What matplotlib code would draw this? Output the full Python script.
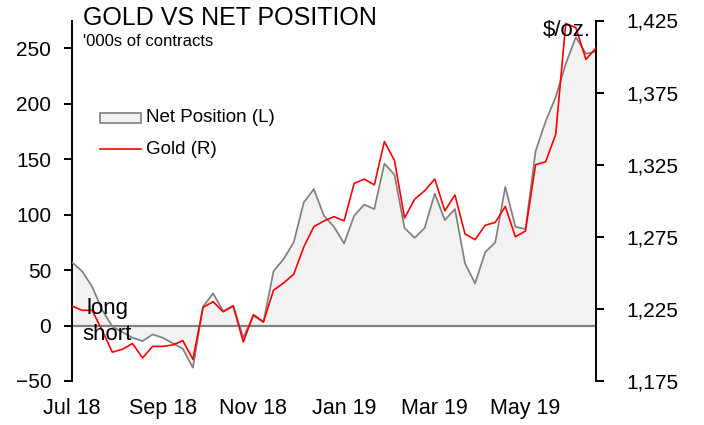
import matplotlib
matplotlib.use('Agg')
import matplotlib.pyplot as plt
from matplotlib.ticker import FuncFormatter, FixedLocator
from matplotlib.patches import Rectangle
from matplotlib.lines import Line2D

plt.rcParams['font.family'] = ['Liberation Sans', 'DejaVu Sans']

# Weekly observations (index 0 = first week of Jul 2018)
weeks = list(range(53))
net_position = [57, 49, 35, 14, -1, -6, -11, -14, -8, -11,
                -16, -21, -38, 17, 29, 13, 18, -11, 9, 3,
                49, 60, 75, 111, 123, 99, 89, 74, 99, 109,
                105, 146, 136, 88, 79, 88, 119, 95, 105, 56,
                38, 66, 75, 125, 89, 87, 157, 184, 206, 236,
                260, 245, 247]
gold = [1227, 1224, 1224, 1210, 1195, 1197, 1201, 1191, 1199, 1199,
        1200, 1203, 1190, 1226, 1230, 1223, 1227, 1202, 1221, 1216,
        1238, 1243, 1249, 1268, 1282, 1286, 1289, 1286, 1312, 1315,
        1311, 1341, 1328, 1288, 1301, 1307, 1315, 1293, 1304, 1277,
        1273, 1283, 1285, 1296, 1275, 1279, 1325, 1327, 1346, 1423,
        1420, 1398, 1406]
tick_idx = [0, 9, 18, 27, 36, 45]
tick_labels = ['Jul 18', 'Sep 18', 'Nov 18', 'Jan 19', 'Mar 19', 'May 19']
left_ticks = [-50, 0, 50, 100, 150, 200, 250]
right_ticks = [1175, 1225, 1275, 1325, 1375, 1425]

W, H = 704, 425
fig = plt.figure(figsize=(W / 100, H / 100), dpi=100)
ax = fig.add_axes([72 / W, 1 - 381 / H, (596 - 72) / W, (381 - 20.5) / H])

GRAY = '#808080'
FILL = '#f2f2f2'
RED = '#ff0000'

ax.fill_between(weeks, net_position, 0, color=FILL, lw=0, zorder=1)
ax.axhline(0, color=GRAY, lw=1.6, zorder=2)
ax.plot(weeks, net_position, color=GRAY, lw=1.25, zorder=3)
ax.set_xlim(0, 52)
ax.set_ylim(-50, 275)

ax2 = ax.twinx()
ax2.plot(weeks, gold, color=RED, lw=1.2, zorder=4)
ax2.set_ylim(1175, 1425)
ax2.set_xlim(0, 52)

for a in (ax, ax2):
    for s in a.spines.values():
        s.set_visible(False)
    a.patch.set_visible(False)

ax.spines['left'].set_visible(True)
ax.spines['left'].set_linewidth(1.4)
ax.spines['left'].set_color('black')
ax2.spines['right'].set_visible(True)
ax2.spines['right'].set_linewidth(1.4)
ax2.spines['right'].set_color('black')

ax.yaxis.set_major_locator(FixedLocator(left_ticks))
ax.tick_params(axis='y', direction='out', length=6, width=1.4, pad=9,
               labelsize=15, colors='black')
ax2.yaxis.set_major_locator(FixedLocator(right_ticks))
ax2.yaxis.set_major_formatter(FuncFormatter(lambda v, p: f'{int(v):,}'))
ax2.tick_params(axis='y', direction='out', length=6, width=1.4, pad=16,
                labelsize=15, colors='black')

ax.set_xticks(tick_idx)
ax.set_xticklabels(tick_labels)
ax.tick_params(axis='x', length=0, pad=12, labelsize=15.5)
ax2.tick_params(axis='x', length=0, labelbottom=False)

# Titles
fig.text(83 / W, 1 - 25 / H, 'GOLD VS NET POSITION', fontsize=18, va='baseline')
fig.text(83 / W, 1 - 45.5 / H, "'000s of contracts", fontsize=12, va='baseline')
fig.text(591 / W, 1 - 36 / H, '$/oz.', fontsize=16, va='baseline', ha='right')
fig.text(87 / W, 1 - 314 / H, 'long', fontsize=16, va='baseline')
fig.text(82 / W, 1 - 340 / H, 'short', fontsize=16, va='baseline')

# Legend
fig.patches.append(Rectangle((99.5 / W, 1 - 123.3 / H), 41 / W, 10 / H,
                             transform=fig.transFigure, facecolor=FILL,
                             edgecolor=GRAY, lw=1.2))
fig.lines.append(Line2D([99.5 / W, 141 / W], [1 - 149.3 / H] * 2,
                        transform=fig.transFigure, color=RED, lw=1.2))
fig.text(146 / W, 1 - 118 / H, 'Net Position (L)', fontsize=13.5, va='center')
fig.text(146 / W, 1 - 149.3 / H, 'Gold (R)', fontsize=13.5, va='center')

fig.savefig('out.png', dpi=100)
